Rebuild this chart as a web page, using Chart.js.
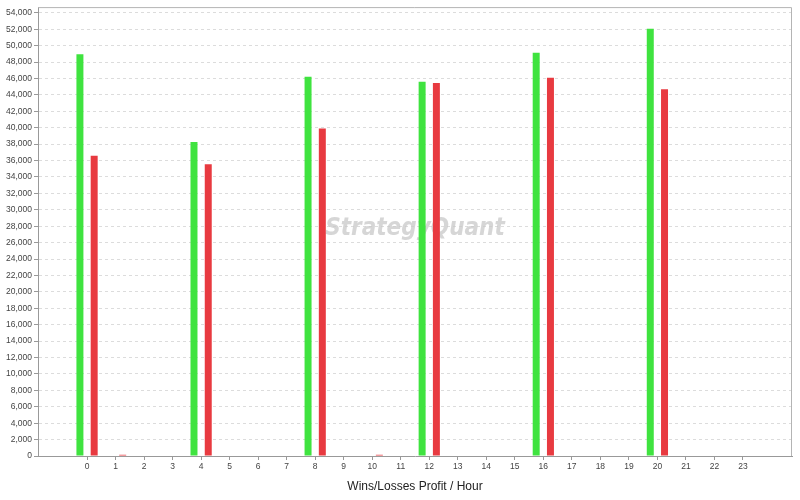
<!DOCTYPE html>
<html>
<head>
<meta charset="utf-8">
<script src="https://cdn.jsdelivr.net/npm/chart.js@4/dist/chart.umd.min.js"></script>
<style>
    html, body { margin: 0; padding: 0; background: #fff; }
    #wrap { width: 800px; height: 500px; position: relative; }
</style>
</head>
<body>
<div id="wrap"><canvas id="hourChart"></canvas></div>
<script>
// Hours of the day (categories)
const hours = [0, 1, 2, 3, 4, 5, 6, 7, 8, 9, 10, 11, 12, 13, 14, 15, 16, 17, 18, 19, 20, 21, 22, 23];

// Profit of winning trades per hour
const wins = [48950, 0, 0, 0, 38250, 0, 0, 0, 46200, 0, 0, 0, 45600, 0, 0, 0, 49150, 0, 0, 0, 52050, 0, 0, 0];

// Loss of losing trades per hour (absolute)
const losses = [36600, 150, 0, 0, 35550, 0, 0, 0, 39900, 0, 150, 0, 45450, 0, 0, 0, 46100, 0, 0, 0, 44700, 0, 0, 0];

// Y axis tick labels
const yTicks = [0, 2000, 4000, 6000, 8000, 10000, 12000, 14000, 16000, 18000, 20000, 22000, 24000, 26000,
    28000, 30000, 32000, 34000, 36000, 38000, 40000, 42000, 44000, 46000, 48000, 50000, 52000, 54000];

const tickFont = { family: "'Liberation Sans', Arial, sans-serif", size: 8.5 };

// Frame around the plot + watermark
const framePlugin = {
    id: 'frame',
    beforeDatasetsDraw(chart) {
        const { ctx, chartArea } = chart;
        ctx.save();
        ctx.font = "italic bold 24px 'DejaVu Sans Condensed', 'Liberation Sans Narrow', sans-serif";
        ctx.fillStyle = 'rgba(200, 200, 200, 0.75)';
        ctx.textAlign = 'center';
        ctx.textBaseline = 'middle';
        ctx.fillText('StrategyQuant', (chartArea.left + chartArea.right) / 2, 229);
        ctx.restore();
    },
    afterDraw(chart) {
        const { ctx, chartArea } = chart;
        ctx.save();
        ctx.strokeStyle = '#b4b4b4';
        ctx.lineWidth = 1;
        ctx.beginPath();
        ctx.moveTo(chartArea.left, chartArea.top + 0.5);
        ctx.lineTo(chartArea.right - 0.5, chartArea.top + 0.5);
        ctx.lineTo(chartArea.right - 0.5, chartArea.bottom);
        ctx.stroke();
        ctx.restore();
    }
};

new Chart(document.getElementById('hourChart'), {
    type: 'bar',
    data: {
        datasets: [{
            label: 'Wins',
            data: hours.map((h, i) => ({ x: h, y: wins[i] })),
            backgroundColor: '#3fe33f',
            borderWidth: 0
        }, {
            label: 'Losses',
            data: hours.map((h, i) => ({ x: h, y: losses[i] })),
            backgroundColor: '#e83a40',
            borderWidth: 0
        }]
    },
    options: {
        responsive: true,
        maintainAspectRatio: false,
        animation: false,
        categoryPercentage: 1,
        barPercentage: 0.49,
        layout: { padding: { top: 6, right: 8, left: 0, bottom: 0 } },
        plugins: {
            legend: { display: false },
            tooltip: { enabled: false }
        },
        scales: {
            x: {
                type: 'linear',
                offset: false,
                min: -1.72,
                max: 24.72,
                afterBuildTicks: scale => { scale.ticks = hours.map(h => ({ value: h })); },
                afterFit: scale => { scale.height = 44; },
                grid: {
                    offset: false,
                    drawOnChartArea: false,
                    drawTicks: true,
                    tickLength: 4,
                    tickColor: '#999'
                },
                border: { color: '#999' },
                ticks: {
                    color: '#444',
                    font: tickFont,
                    padding: 2,
                    maxRotation: 0,
                    autoSkip: false
                },
                title: {
                    display: true,
                    text: 'Wins/Losses Profit / Hour',
                    color: '#222',
                    font: { family: "'Liberation Sans', Arial, sans-serif", size: 12 },
                    padding: { top: 0, bottom: 6 }
                }
            },
            y: {
                min: 0,
                max: 54700,
                afterBuildTicks: scale => { scale.ticks = yTicks.map(v => ({ value: v })); },
                afterFit: scale => { scale.width = 38; },
                grid: {
                    color: '#dcdcdc',
                    tickColor: '#999',
                    tickLength: 4
                },
                border: { color: '#999', dash: [3, 3] },
                ticks: {
                    color: '#444',
                    font: tickFont,
                    padding: 2,
                    callback: v => v.toLocaleString('en-US')
                }
            }
        }
    },
    plugins: [framePlugin]
});
</script>
</body>
</html>
